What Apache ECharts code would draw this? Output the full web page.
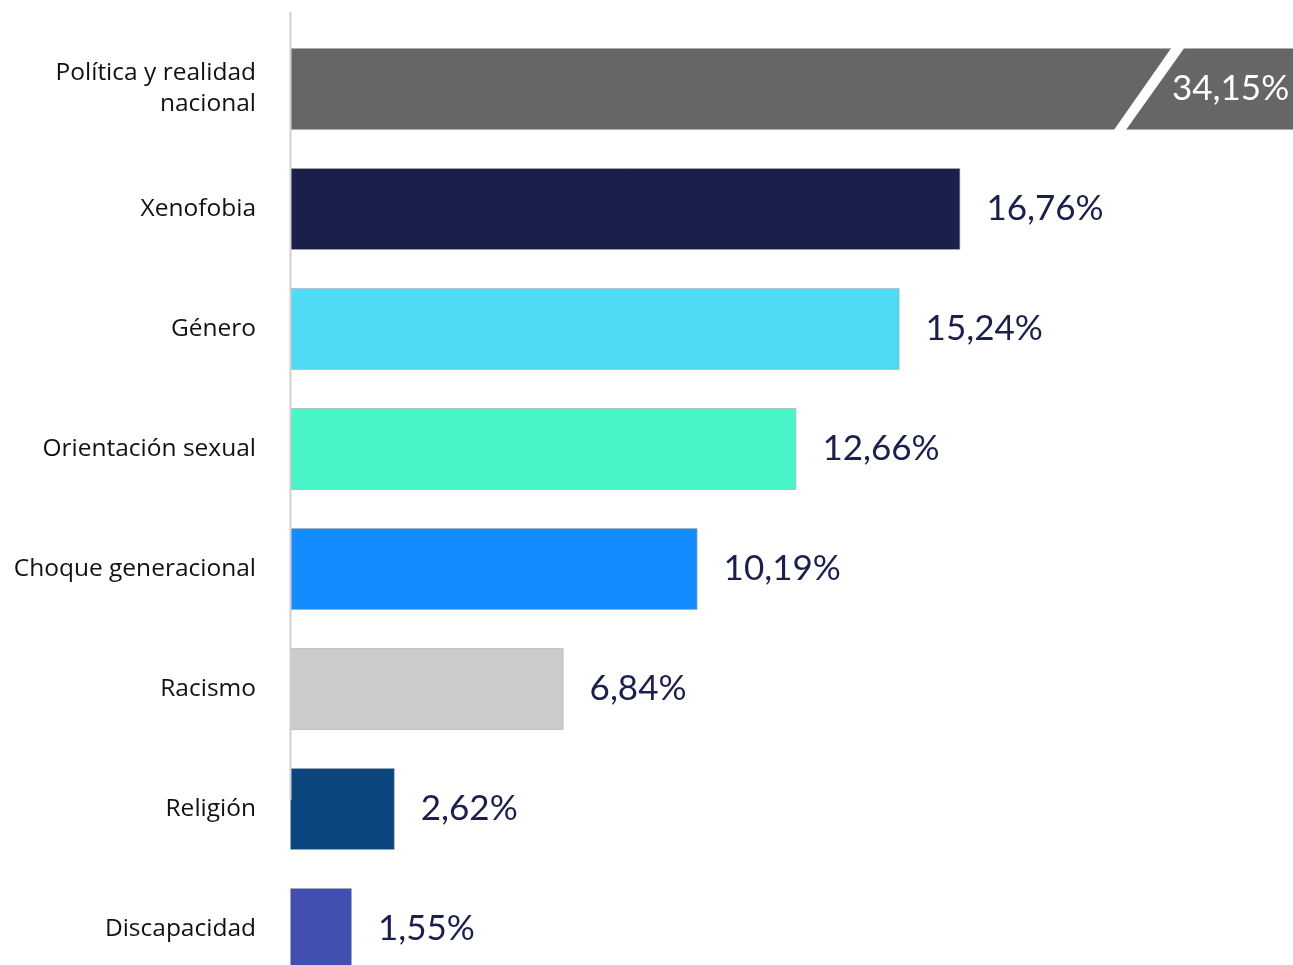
<!DOCTYPE html>
<html>
<head>
<meta charset="utf-8">
<script src="https://cdn.jsdelivr.net/npm/echarts@6/dist/echarts.min.js"></script>
<style>
  html, body { margin: 0; padding: 0; background: #fff; }
  #main { width: 1293px; height: 965px; }
</style>
</head>
<body>
<div id="main"></div>
<script>
var categories = ['Política y realidad\nnacional', 'Xenofobia', 'Género', 'Orientación sexual',
  'Choque generacional', 'Racismo', 'Religión', 'Discapacidad'];
var values = [34.15, 16.76, 15.24, 12.66, 10.19, 6.84, 2.62, 1.55];
var colors = ['#666666', '#1a1f4b', '#4fdbf5', '#47f5c8', '#138cff', '#cccccc', '#0a467d', '#4150b0'];

var myChart = echarts.init(document.getElementById('main'));

var seriesData = values.map(function (v, i) {
  var item = {
    value: v,
    itemStyle: { color: colors[i] }
  };
  if (i === 0) {
    // barra cortada: etiqueta blanca dentro
    item.label = {
      position: [882, '50%'],
      verticalAlign: 'middle',
      color: '#ffffff'
    };
  }
  return item;
});

var option = {
  animation: false,
  grid: {
    left: 290,
    top: 29,
    width: 1040,
    height: 960,
    outerBoundsMode: 'none'
  },
  xAxis: {
    type: 'value',
    min: 0,
    max: 26,
    show: false
  },
  yAxis: {
    type: 'category',
    inverse: true,
    data: categories,
    axisLine: { show: false },
    axisTick: { show: false },
    axisLabel: {
      margin: 34,
      fontFamily: 'Open Sans',
      fontSize: 24.5,
      color: '#111111',
      lineHeight: 31,
      align: 'right'
    }
  },
  series: [{
    type: 'bar',
    barWidth: 82,
    data: seriesData,
    itemStyle: {
      borderColor: 'rgba(170,170,170,0.6)',
      borderWidth: 1
    },
    label: {
      show: true,
      position: 'right',
      distance: 26,
      fontFamily: 'Lato',
      fontSize: 35,
      color: '#1a1f4b',
      formatter: function (p) {
        return p.value.toFixed(2).replace('.', ',') + '%';
      }
    }
  }]
};
myChart.setOption(option);

// eje vertical y la marca de corte de la primera barra
var top0 = myChart.convertToPixel({ yAxisIndex: 0 }, 0);
var p20 = myChart.convertToPixel({ xAxisIndex: 0 }, 20.58);
var p22 = myChart.convertToPixel({ xAxisIndex: 0 }, 22.05);
myChart.setOption({
  graphic: [
    {
      type: 'line',
      shape: { x1: 290.5, y1: 12, x2: 290.5, y2: 800 },
      style: { stroke: '#d0d0d0', lineWidth: 2 },
      z: 10
    },
    {
      type: 'polygon',
      shape: {
        points: [
          [p20, top0 + 42], [p20 + 12, top0 + 42],
          [p22 + 13, top0 - 42], [p22, top0 - 42]
        ]
      },
      style: { fill: '#ffffff' },
      z: 10
    }
  ]
});
</script>
</body>
</html>
